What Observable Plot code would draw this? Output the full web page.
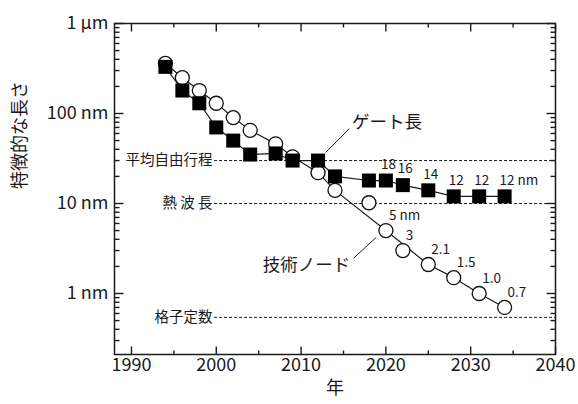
<!DOCTYPE html>
<html><head><meta charset="utf-8">
<script src="https://cdn.jsdelivr.net/npm/d3@7"></script>
<script src="https://cdn.jsdelivr.net/npm/@observablehq/plot@0.6"></script>
<style>body{margin:0;background:#fff;overflow:hidden} svg{display:block}</style>
</head><body><div id="chart"></div>
<script>
// Technology node (open circles)
const nodeYears  = [1994,1996,1998,2000,2002,2004,2007,2009,2012,2014,2018,2020,2022,2025,2028,2031,2034];
const nodeValues = [360,250,180,130,90,65,46,33,22,14,10.2,5,3,2.1,1.5,1.0,0.7];
const nodeLabels = ["","","","","","","","","","","","5 nm","3","2.1","1.5","1.0","0.7"];
// Trend line drawn through the node series
const nodeTrendYears  = [1994,1996,1998,2000,2002,2004,2007,2009,2012,2014,2020,2025,2028,2031,2034];
const nodeTrendValues = [360,250,180,130,90,65,46,33,22,14,5,2.1,1.5,1.0,0.7];
// Gate length (filled squares)
const gateYears  = [1994,1996,1998,2000,2002,2004,2007,2009,2012,2014,2018,2020,2022,2025,2028,2031,2034];
const gateValues = [330,180,130,70,50,35,36,30,30,20,18,18,16,14,12,12,12];
const gateLabels = ["","","","","","","","","","","","18","16","14","12","12","12 nm"];
// Reference lengths (dashed lines)
const refNames  = ["平均自由行程","熱 波 長","格子定数"];
const refValues = [30, 10, 0.543];
const refStartYear = 1999.8;
// Series annotations
const annoNames = ["ゲート長","技術ノード"];
const annoX = [2016.0, 2015.8];
const annoY = [80, 2.06];
const leaderX1 = [2012.9, 2016.2];
const leaderY1 = [37, 2.47];
const leaderX2 = [2015.7, 2018.85];
const leaderY2 = [68, 4.2];
// Axis ticks
const yMajor = [1, 10, 100, 1000];
const yTickLabels = ["1 nm", "10 nm", "100 nm", "1 μm"];
const xMajor = [1990, 2000, 2010, 2020, 2030, 2040];
const xMinor = [1995, 2005, 2015, 2025, 2035];
const yTitle = "特徴的な長さ";
const xTitle = "年";

const yMinor = [];
for (const dec of [0.1, 1, 10, 100]) for (let m = 2; m <= 9; m++) { const v = +(dec * m).toPrecision(3); if (v >= 0.21) yMinor.push(v); }

const nodes = nodeYears.map((x, i) => ({x, y: nodeValues[i], label: nodeLabels[i]}));
const trend = nodeTrendYears.map((x, i) => ({x, y: nodeTrendValues[i]}));
const gates = gateYears.map((x, i) => ({x, y: gateValues[i], label: gateLabels[i]}));
const refs = refNames.map((name, i) => ({name, y: refValues[i]}));
const annos = annoNames.map((name, i) => ({name, x: annoX[i], y: annoY[i],
  x1: leaderX1[i], y1: leaderY1[i], x2: leaderX2[i], y2: leaderY2[i]}));

const W = 578, H = 404, ML = 114, MR = 23, MT = 23, MB = 50;
const FW = W - ML - MR, FH = H - MT - MB;
const xDom = [1988, 2040], yDom = [0.21, 1000];
const FONT = '"Noto Sans CJK JP", "Noto Sans", sans-serif';
const INK = "#1a1a1a";

// tick lengths expressed through the scales (pixel length -> data units)
const yrPerPx = (xDom[1] - xDom[0]) / FW;
const decPerPx = Math.log10(yDom[1] / yDom[0]) / FH;
const yTicks = [
  ...yMajor.map(v => ({v, len: 9})),
  ...yMinor.map(v => ({v, len: 5}))
];
const xTicks = [
  ...xMajor.map(v => ({v, len: 8})),
  ...xMinor.map(v => ({v, len: 4}))
];
const tickSegs = [];
for (const t of yTicks) {
  tickSegs.push({x1: xDom[0], x2: xDom[0] + t.len * yrPerPx, y1: t.v, y2: t.v});
  tickSegs.push({x1: xDom[1], x2: xDom[1] - t.len * yrPerPx, y1: t.v, y2: t.v});
}
for (const t of xTicks) {
  tickSegs.push({x1: t.v, x2: t.v, y1: yDom[0], y2: yDom[0] * Math.pow(10, t.len * decPerPx)});
  tickSegs.push({x1: t.v, x2: t.v, y1: yDom[1], y2: yDom[1] / Math.pow(10, t.len * decPerPx)});
}

const chart = Plot.plot({
  width: W, height: H,
  marginLeft: ML, marginRight: MR, marginTop: MT, marginBottom: MB,
  style: {fontFamily: FONT, background: "#fff", color: INK},
  x: {domain: xDom},
  y: {type: "log", domain: yDom},
  marks: [
    // dashed reference lines
    Plot.ruleY(refs, {y: "y", x1: refStartYear, x2: xDom[1], stroke: INK, strokeWidth: 1, strokeDasharray: "3,2"}),
    Plot.text(refs, {x: refStartYear, y: "y", text: "name", textAnchor: "end", dx: -2, fontSize: 14.5, fill: INK}),
    // technology node
    Plot.line(trend, {x: "x", y: "y", stroke: INK, strokeWidth: 1.2}),
    Plot.dot(nodes, {x: "x", y: "y", r: 7, fill: "#fff", stroke: "#111", strokeWidth: 1.3}),
    Plot.text(nodes, {x: "x", y: "y", text: "label", textAnchor: "start", dx: 3, dy: -15, fontSize: 13.5, fill: INK}),
    // gate length
    Plot.line(gates, {x: "x", y: "y", stroke: INK, strokeWidth: 1.2}),
    Plot.dot(gates, {x: "x", y: "y", r: 7.9, symbol: "square", fill: "#000", stroke: "none"}),
    Plot.text(gates, {x: "x", y: "y", text: "label", textAnchor: "start", dx: -5, dy: -16, fontSize: 13.5, fill: INK}),
    // annotations
    Plot.link(annos, {x1: "x1", y1: "y1", x2: "x2", y2: "y2", stroke: INK, strokeWidth: 1}),
    Plot.text(annos.slice(0, 1), {x: "x", y: "y", text: "name", textAnchor: "start", fontSize: 17.5, fill: INK}),
    Plot.text(annos.slice(1), {x: "x", y: "y", text: "name", textAnchor: "end", fontSize: 17.5, fill: INK}),
    // axis labels
    Plot.axisY({anchor: "left", ticks: yMajor, tickSize: 0, tickPadding: 6, fontSize: 18, label: null,
      tickFormat: d => yTickLabels[yMajor.indexOf(d)]}),
    Plot.axisX({anchor: "bottom", ticks: xMajor, tickSize: 0, tickPadding: 4, fontSize: 18, label: null,
      tickFormat: d => String(d)}),
    // axis titles
    Plot.text([yTitle], {frameAnchor: "left", dx: -94, rotate: -90, text: d => d, fontSize: 18, fill: INK}),
    Plot.text([xTitle], {frameAnchor: "bottom", dy: 39, text: d => d, fontSize: 18, fill: INK}),
    Plot.frame({stroke: INK, strokeWidth: 1.5}),
    // inward tick marks on all four sides
    Plot.link(tickSegs, {x1: "x1", y1: "y1", x2: "x2", y2: "y2", stroke: INK, strokeWidth: 1.4})
  ]
});
document.getElementById("chart").appendChild(chart);
</script>
</body></html>
